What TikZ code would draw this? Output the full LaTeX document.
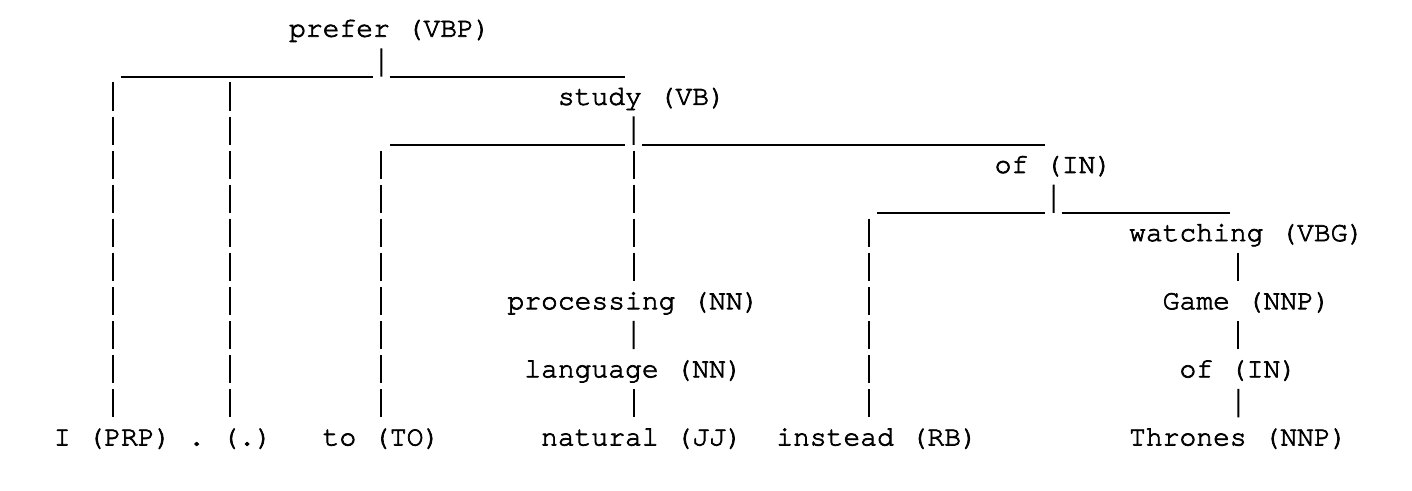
\documentclass[tikz,border=0pt]{standalone}
\usepackage{fontspec}
\usepackage{tikz}
\usetikzlibrary{calc}
\newfontfamily\treefont{TeX Gyre Cursor}[FakeBold=2.5]
\frenchspacing

\begin{document}
\begin{tikzpicture}[x=8.4pt, y=-17.03pt,
    tok/.style={font=\treefont\fontsize{14}{17}\selectfont, yshift=1.3pt,
        inner sep=0pt, outer sep=0pt, text height=14.08pt, text depth=5.83pt, anchor=base west},
    stem/.style={line width=1pt, dash pattern=on 14.15pt off 2.88pt},
    drop/.style={stem, dash phase=14.15pt},
    rail/.style={line width=1pt}]
    \useasboundingbox (-3.208,-1.154) rectangle (80.839,13.233);

    % Words (column, row)
    \node[tok] (prefer) at (14,0) {prefer (VBP)};
    \node[tok] (study) at (30,2) {study (VB)};
    \node[tok] (of1) at (56,4) {of (IN)};
    \node[tok] (watching) at (64,6) {watching (VBG)};
    \node[tok] (processing) at (27,8) {processing (NN)};
    \node[tok] (game) at (66,8) {Game (NNP)};
    \node[tok] (language) at (28,10) {language (NN)};
    \node[tok] (of2) at (67,10) {of (IN)};
    \node[tok] (i) at (0,12) {I (PRP)};
    \node[tok] (dot) at (8,12) {. (.)};
    \node[tok] (to) at (16,12) {to (TO)};
    \node[tok] (natural) at (29,12) {natural (JJ)};
    \node[tok] (instead) at (43,12) {instead (RB)};
    \node[tok] (thrones) at (64,12) {Thrones (NNP)};

    % Junctions under the heads
    \coordinate (jp) at (19.5,1.097);
    \coordinate (js) at (34.5,3.097);
    \coordinate (jo) at (59.5,5.097);

    % prefer
    \draw[stem] (to.north |- prefer.south) -- (jp);
    \draw[rail] ($(i.north |- jp)+(0.5,0)$) -- ($(jp)-(0.5,0)$);
    \draw[rail] ($(jp)+(0.5,0)$) -- ($(language.north |- jp)-(0.5,0)$);
    \draw[drop] (i.north |- jp) -- (i.north);
    \draw[drop] (dot.north |- jp) -- (dot.north);

    % study
    \draw[stem] (language.north |- study.south) -- (js);
    \draw[rail] ($(to.north |- js)+(0.5,0)$) -- ($(js)-(0.5,0)$);
    \draw[rail] ($(js)+(0.5,0)$) -- ($(of1.north |- js)-(0.5,0)$);
    \draw[drop] (to.north |- js) -- (to.north);
    \draw[drop] (processing.north |- js) -- (processing.north);

    % of
    \draw[stem] (of1.south) -- (jo);
    \draw[rail] (instead.north |- jo) -- ($(jo)-(0.5,0)$);
    \draw[rail] ($(jo)+(0.5,0)$) -- ($(thrones.north |- jo)-(0.5,0)$);
    \draw[drop] ($(instead.north |- jo)-(0.5,0)$) -- ($(instead.north)-(0.5,0)$);

    % single chains
    \draw[stem] (processing.south) -- (language.north);
    \draw[stem] (language.south) -- (language.south |- natural.north);
    \draw[stem] (thrones.north |- watching.south) -- (thrones.north |- game.north);
    \draw[stem] (of2.north |- game.south) -- (of2.north);
    \draw[stem] (of2.south) -- (thrones.north);

\end{tikzpicture}
\end{document}
